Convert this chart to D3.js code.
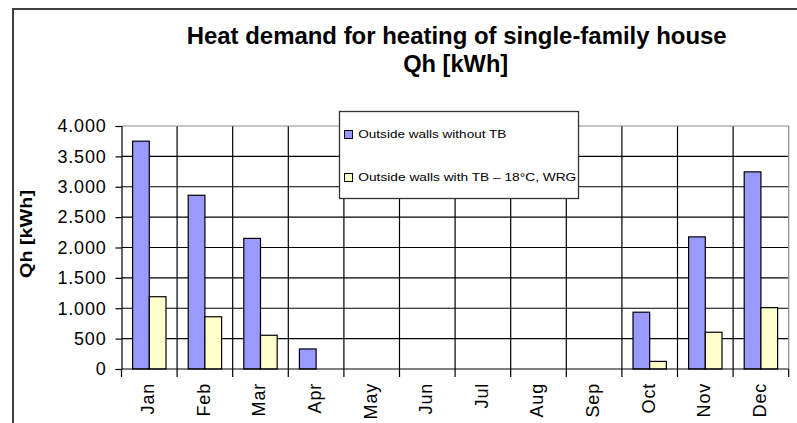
<!DOCTYPE html>
<html>
<head>
<meta charset="utf-8">
<script src="https://cdn.jsdelivr.net/npm/d3@7/dist/d3.min.js"></script>
<style>
  html, body { margin: 0; padding: 0; background: #fff; }
  svg { display: block; font-family: "Liberation Sans", Arial, Helvetica, sans-serif; }
</style>
</head>
<body>
<svg id="chart" width="797" height="423"></svg>
<script>
const months = ["Jan","Feb","Mar","Apr","May","Jun","Jul","Aug","Sep","Oct","Nov","Dec"];
const seriesNames = ["Outside walls without TB", "Outside walls with TB \u2013 18\u00B0C, WRG"];
const withoutTB = [3750, 2860, 2150, 330, 0, 0, 0, 0, 0, 935, 2175, 3245];
const withTB    = [1190, 860, 555, 0, 0, 0, 0, 0, 0, 125, 605, 1010];
const yTicks = [0, 500, 1000, 1500, 2000, 2500, 3000, 3500, 4000];
const colors = ["#9999FF", "#FFFFCC"];
const titleLines = ["Heat demand for heating of single-family house", "Qh [kWh]"];
const yTitle = "Qh [kWh]";

const svg = d3.select("#chart");

// outer frame
svg.append("rect").attr("x", 13).attr("y", 9).attr("width", 800).attr("height", 430)
  .attr("fill", "none").attr("stroke", "#404040").attr("stroke-width", 2);

const plotL = 121.5, plotR = 788.7, plotT = 126, plotB = 369;

const x = d3.scaleBand().domain(months).range([plotL, plotR]).padding(0);
const x1 = d3.scaleBand().domain([0, 1]).range([0, x.bandwidth()]).paddingInner(0).paddingOuter(0.665);
const y = d3.scaleLinear().domain([0, 4000]).range([plotB, plotT]);

// horizontal gridlines
svg.append("g").selectAll("line").data(yTicks.filter(d => d > 0 && d < 4000)).join("line")
  .attr("x1", plotL).attr("x2", plotR).attr("y1", d => y(d)).attr("y2", d => y(d))
  .attr("stroke", "#000").attr("stroke-width", 1.2);
// vertical gridlines at category boundaries
svg.append("g").selectAll("line").data(months.slice(1)).join("line")
  .attr("x1", d => x(d)).attr("x2", d => x(d)).attr("y1", plotT).attr("y2", plotB)
  .attr("stroke", "#000").attr("stroke-width", 1.2);
// plot area border (top/right gray)
svg.append("path")
  .attr("d", `M${plotL},${plotT}H${plotR}V${plotB}`)
  .attr("fill", "none").attr("stroke", "#8a8a8a").attr("stroke-width", 1.2);

// bars
const data = months.map((m, i) => ({ m, vals: [withoutTB[i], withTB[i]] }));
const groups = svg.append("g").selectAll("g").data(data).join("g")
  .attr("transform", d => `translate(${x(d.m)},0)`);
groups.selectAll("rect").data(d => d.vals.map((v, k) => ({ v, k })).filter(e => e.v > 0)).join("rect")
  .attr("x", e => x1(e.k)).attr("width", x1.bandwidth())
  .attr("y", e => y(e.v)).attr("height", e => y(0) - y(e.v))
  .attr("fill", e => colors[e.k]).attr("stroke", "#000").attr("stroke-width", 1.2);

// y axis
const yAxis = d3.axisLeft(y).tickValues(yTicks).tickSize(6).tickPadding(9)
  .tickFormat(d => d === 0 ? "0" : d3.format(",")(d).replace(",", "."));
const gy = svg.append("g").attr("transform", `translate(${plotL},0)`).call(yAxis);
gy.select(".domain").attr("stroke", "#000").attr("stroke-width", 1.2);
gy.selectAll(".tick line").attr("stroke", "#000").attr("stroke-width", 1.2);
gy.selectAll(".tick text").attr("font-size", 18).attr("fill", "#000")
  .attr("letter-spacing", 0.8).attr("font-family", "Liberation Sans, Arial, sans-serif");

// x axis: ticks at category boundaries
const gx = svg.append("g").attr("transform", `translate(0,${plotB})`);
gx.append("line").attr("x1", plotL).attr("x2", plotR).attr("stroke", "#000").attr("stroke-width", 1.2);
gx.selectAll("line.tk").data(months.concat(["end"])).join("line").attr("class", "tk")
  .attr("x1", (d, i) => i < 12 ? x(d) : plotR).attr("x2", (d, i) => i < 12 ? x(d) : plotR)
  .attr("y1", 0).attr("y2", 8).attr("stroke", "#000").attr("stroke-width", 1.2);
gx.selectAll("text").data(months).join("text")
  .attr("transform", d => `translate(${x(d) + x.bandwidth() / 2 - 1.5},14) rotate(-90)`)
  .attr("text-anchor", "end").attr("dy", "0.35em")
  .attr("font-size", 18).attr("letter-spacing", 0.8).attr("fill", "#000")
  .text(d => d);

// y title
svg.append("text")
  .attr("transform", "translate(32,234) rotate(-90)")
  .attr("text-anchor", "middle").attr("font-weight", "bold").attr("font-size", 17)
  .attr("textLength", 88).attr("lengthAdjust", "spacingAndGlyphs")
  .text(yTitle);

// title
svg.append("text").attr("x", 456.7).attr("y", 44.3).attr("text-anchor", "middle")
  .attr("font-weight", "bold").attr("font-size", 23)
  .attr("textLength", 540).attr("lengthAdjust", "spacingAndGlyphs")
  .text(titleLines[0]);
svg.append("text").attr("x", 455.7).attr("y", 72.3).attr("text-anchor", "middle")
  .attr("font-weight", "bold").attr("font-size", 23)
  .attr("textLength", 105).attr("lengthAdjust", "spacingAndGlyphs")
  .text(titleLines[1]);

// legend
const lg = svg.append("g");
lg.append("rect").attr("x", 339.5).attr("y", 111.5).attr("width", 239).attr("height", 87)
  .attr("fill", "#fff").attr("stroke", "#333").attr("stroke-width", 1.3);
const legY = [130, 173];
const legW = [148, 218];
seriesNames.forEach((name, i) => {
  lg.append("rect").attr("x", 344.5).attr("y", legY[i] + 0.5).attr("width", 8).attr("height", 8)
    .attr("fill", colors[i]).attr("stroke", "#000").attr("stroke-width", 1);
  lg.append("text").attr("x", 358.3).attr("y", legY[i] + 7.5)
    .attr("font-size", 10.5).attr("fill", "#000")
    .attr("textLength", legW[i]).attr("lengthAdjust", "spacingAndGlyphs")
    .text(name);
});
</script>
</body>
</html>
